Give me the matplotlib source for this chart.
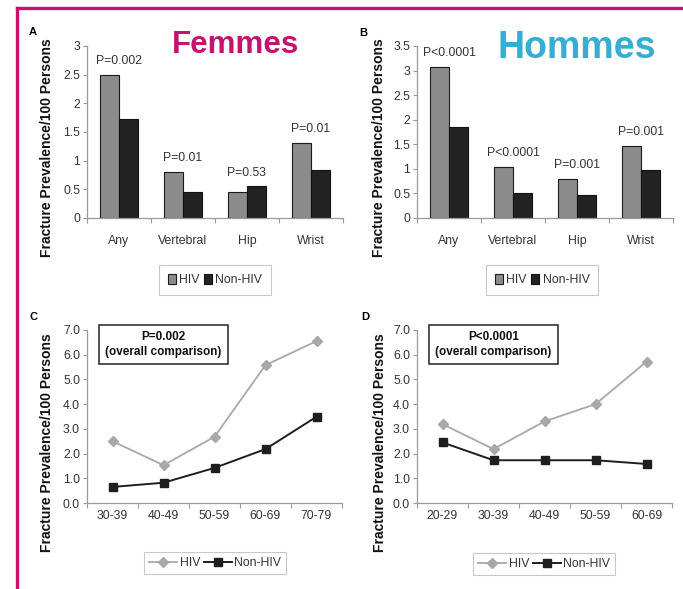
import numpy as np
import matplotlib.pyplot as plt
from matplotlib import font_manager
from matplotlib.lines import Line2D

# fracture sites (panels A/B)
sites = ['Any', 'Vertebral', 'Hip', 'Wrist']
women_hiv = [2.5, 0.81, 0.46, 1.31]
women_nonhiv = [1.73, 0.45, 0.55, 0.84]
women_p = ['P=0.002', 'P=0.01', 'P=0.53', 'P=0.01']
men_hiv = [3.07, 1.03, 0.79, 1.47]
men_nonhiv = [1.85, 0.50, 0.47, 0.98]
men_p = ['P<0.0001', 'P<0.0001', 'P=0.001', 'P=0.001']

# age groups (panels C/D)
women_ages = ['30-39', '40-49', '50-59', '60-69', '70-79']
women_age_hiv = [2.5, 1.53, 2.68, 5.58, 6.55]
women_age_nonhiv = [0.65, 0.82, 1.42, 2.18, 3.49]
women_overall = 'P=0.002'
men_ages = ['20-29', '30-39', '40-49', '50-59', '60-69']
men_age_hiv = [3.19, 2.18, 3.30, 4.00, 5.72]
men_age_nonhiv = [2.45, 1.73, 1.73, 1.73, 1.58]
men_overall = 'P<0.0001'

W, H = 683, 589
MAGENTA = '#C4126E'
CYAN = '#35AED1'
HIV_BAR = '#8C8C8C'
NON_BAR = '#222222'
HIV_LINE = '#A8A8A8'
AXIS_GREY = '#9A9A9A'
TXT = '#333333'

names = {f.name for f in font_manager.fontManager.ttflist}
if 'Liberation Sans Narrow' in names:
    NARROW, NSIZE = 'Liberation Sans Narrow', 10.5
else:
    NARROW, NSIZE = 'Liberation Sans', 8.8
plt.rcParams['font.family'] = ['Liberation Sans', 'DejaVu Sans']

fig = plt.figure(figsize=(W / 100, H / 100), dpi=100)


def px_axes(left, top, right, bottom):
    '''Add an axes given its box in pixel coordinates (origin top-left).'''
    return fig.add_axes([left / W, 1 - bottom / H, (right - left) / W, (bottom - top) / H])


def style_axes(ax, n, xpad):
    for s in ['top', 'right']:
        ax.spines[s].set_visible(False)
    for s in ['left', 'bottom']:
        ax.spines[s].set_color(AXIS_GREY)
        ax.spines[s].set_linewidth(0.9)
    ax.set_xlim(-0.5, n - 0.5)
    ax.set_xticks(np.arange(n + 1) - 0.5, minor=True)
    ax.tick_params(axis='x', which='major', length=0, pad=xpad)
    ax.tick_params(axis='x', which='minor', length=3.5, color=AXIS_GREY, width=0.8)
    ax.tick_params(axis='y', length=3, color=AXIS_GREY, width=0.8, pad=2)
    for lab in ax.get_xticklabels() + ax.get_yticklabels():
        lab.set_fontfamily(NARROW)
        lab.set_fontsize(NSIZE)
        lab.set_color(TXT)
    ax.set_ylabel('Fracture Prevalence/100 Persons', fontsize=10, fontweight='bold', color='#111111')


def bar_panel(ax, hiv, non, pvals, ymax, ystep, label_y):
    x = np.arange(len(sites))
    ax.bar(x - 0.15, hiv, width=0.3, color=HIV_BAR, edgecolor='#1a1a1a', linewidth=0.8, label='HIV')
    ax.bar(x + 0.15, non, width=0.3, color=NON_BAR, edgecolor='#111111', linewidth=0.8, label='Non-HIV')
    for i, p in enumerate(pvals):
        ax.annotate(p, xy=(i, max(hiv[i], non[i])), xytext=(0, 10), textcoords='offset points',
                    ha='center', va='center', fontfamily=NARROW, fontsize=NSIZE, color=TXT)
    ax.set_ylim(0, ymax)
    ax.set_yticks(np.arange(0, ymax + 0.01, ystep))
    ax.set_yticklabels([f'{v:g}' for v in np.arange(0, ymax + 0.01, ystep)])
    ax.set_xticks(x)
    ax.set_xticklabels(sites)
    style_axes(ax, len(sites), 12)
    ax.yaxis.set_label_coords(label_y[0], label_y[1])


def line_panel(ax, ages, hiv, non, overall, label_y):
    x = np.arange(len(ages))
    ax.plot(x, hiv, color=HIV_LINE, linewidth=1.3, marker='D', markersize=5,
            markerfacecolor=HIV_LINE, markeredgecolor=HIV_LINE, label='HIV')
    ax.plot(x, non, color='#1e1e1e', linewidth=1.4, marker='s', markersize=5.5,
            markerfacecolor='#1e1e1e', markeredgecolor='#1e1e1e', label='Non-HIV')
    ax.set_ylim(0, 7)
    ax.set_yticks(np.arange(0, 7.01, 1))
    ax.set_yticklabels([f'{v:.1f}' for v in np.arange(0, 7.01, 1)])
    ax.set_xticks(x)
    ax.set_xticklabels(ages)
    style_axes(ax, len(ages), 5)
    ax.yaxis.set_label_coords(label_y[0], label_y[1])
    ax.text(0.30, 0.915, f'{overall}\n(overall comparison)', transform=ax.transAxes,
            ha='center', va='center', fontsize=8.5, fontweight='bold', color='#111111',
            linespacing=1.35,
            bbox=dict(boxstyle='square,pad=0.5', facecolor='white', edgecolor='#222222', linewidth=1.1))


def fig_legend(ax, cx, cy, bars):
    if bars:
        kw = dict(handlelength=0.7, handleheight=0.9, handletextpad=0.25, columnspacing=0.35, borderpad=0.7)
    else:
        kw = dict(handlelength=2.3, handletextpad=0.2, columnspacing=0.3, borderpad=0.4, numpoints=1)
    leg = ax.legend(loc='center', bbox_to_anchor=(cx / W, 1 - cy / H), bbox_transform=fig.transFigure,
                    ncol=2, frameon=True, fancybox=False, prop={'family': NARROW, 'size': NSIZE}, **kw)
    leg.get_frame().set_edgecolor('#BBBBBB')
    leg.get_frame().set_linewidth(0.8)
    for t in leg.get_texts():
        t.set_color(TXT)


axA = px_axes(87, 46, 343, 218)
bar_panel(axA, women_hiv, women_nonhiv, women_p, 3, 0.5, (-0.127, 0.41))
fig_legend(axA, 215, 280, True)

axB = px_axes(417, 46, 673, 218)
bar_panel(axB, men_hiv, men_nonhiv, men_p, 3.5, 0.5, (-0.121, 0.41))
fig_legend(axB, 542, 280, True)

axC = px_axes(87, 330, 342, 503)
line_panel(axC, women_ages, women_age_hiv, women_age_nonhiv, women_overall, (-0.13, 0.35))
fig_legend(axC, 215, 563, False)

axD = px_axes(417, 330, 672, 503)
line_panel(axD, men_ages, men_age_hiv, men_age_nonhiv, men_overall, (-0.118, 0.35))
fig_legend(axD, 544, 564, False)

# panel letters
for letter, (lx, ly) in zip('ABCD', [(33, 32), (363, 33), (33, 317), (365, 317)]):
    fig.text(lx / W, 1 - ly / H, letter, fontsize=8, fontweight='bold', ha='center', va='center')

# titles
fig.text(172 / W, 1 - 53 / H, 'Femmes', fontsize=22.5, fontweight='bold', color=MAGENTA, va='baseline')
fig.text(497 / W, 1 - 58 / H, 'Hommes', fontsize=27, fontweight='bold', color=CYAN, va='baseline')

# magenta frame lines
fig.add_artist(Line2D([17 / W, 1], [1 - 8 / H, 1 - 8 / H], color=MAGENTA, linewidth=2.4,
                      transform=fig.transFigure))
fig.add_artist(Line2D([17 / W, 17 / W], [0, 1 - 8 / H], color=MAGENTA, linewidth=2.4,
                      transform=fig.transFigure))

fig.savefig('out.png', dpi=100)
